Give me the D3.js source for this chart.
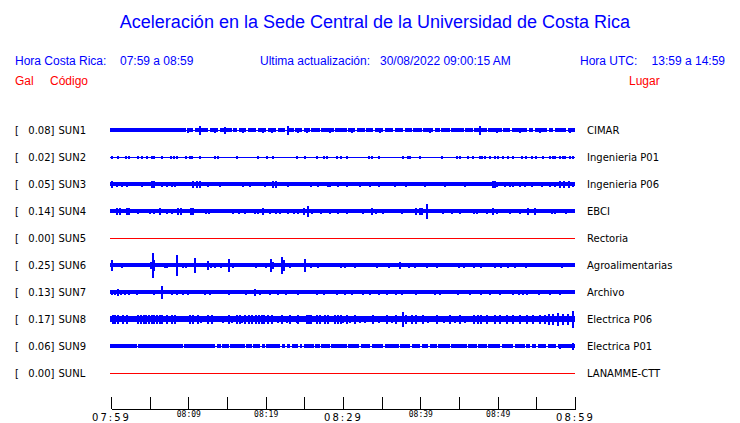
<!DOCTYPE html>
<html><head><meta charset="utf-8">
<script src="https://cdn.jsdelivr.net/npm/d3@7"></script>
<style>body{margin:0;background:#fff}svg{display:block}</style>
</head><body><svg id="c" width="740" height="423"></svg>
<script>
// ---------------- data ----------------
const codes = ["SUN1","SUN2","SUN3","SUN4","SUN5","SUN6","SUN7","SUN8","SUN9","SUNL"];
const sites = ["CIMAR","Ingenieria P01","Ingenieria P06","EBCI","Rectoria","Agroalimentarias","Archivo","Electrica P06","Electrica P01","LANAMME-CTT"];
const peaks = [0.08,0.02,0.05,0.14,0.00,0.25,0.13,0.17,0.06,0.00];
// background (noise floor) half-amplitude, Gal
const noiseFloor = [0.032,0,0.032,0.035,0,0.032,0.032,0.055,0.035,0];
// bursts: [minutes after 07:59, half-amplitude Gal]
const burstsSUN1 = [[10.0,0.04],[11.5,0.078],[13.4,0.045],[14.7,0.06],[17.1,0.04],[19.7,0.04],[20.8,0.045],[22.9,0.075],[24.2,0.05],[25.3,0.045],[28.3,0.04],[31.1,0.05],[34.8,0.04],[41.3,0.045],[47.7,0.075],[49.9,0.04],[52.9,0.05],[55.5,0.035],[59.4,0.04]];
const gapsSUN1 = [9.7,10.6,12.6,13.9,15.6,16.3,17.5,18.8,20.1,21.4,22.5,23.6,24.7,25.7,27.0,28.8,30.5,31.6,32.8,33.9,35.2,36.5,37.8,38.9,40.2,41.7,42.5,43.8,45.6,46.8,48.6,50.5,51.6,53.8,54.6,56.4,57.2,58.9];
const burstsSUN2 = [[0.17,0.03],[0.95,0.03],[1.94,0.025],[2.37,0.025],[3.53,0.03],[3.97,0.025],[4.61,0.03],[5.3,0.03],[5.6,0.03],[6.55,0.025],[7.8,0.03],[8.1,0.03],[8.58,0.03],[9.66,0.025],[10.2,0.03],[10.5,0.03],[11.5,0.03],[13.45,0.025],[13.9,0.02],[16.3,0.025],[19.0,0.02],[20.2,0.025],[21.0,0.02],[24.0,0.02],[25.1,0.02],[26.7,0.03],[27.5,0.03],[27.9,0.025],[29.2,0.025],[29.8,0.03],[30.5,0.025],[33.3,0.02],[33.7,0.025],[34.6,0.03],[37.8,0.02],[38.4,0.03],[38.7,0.03],[40.0,0.025],[42.8,0.03],[44.7,0.025],[45.1,0.02],[46.2,0.025],[46.8,0.02],[47.7,0.03],[48.0,0.03],[48.3,0.03],[49.0,0.03],[49.6,0.03],[50.1,0.03],[50.7,0.03],[51.4,0.03],[52.0,0.025],[53.1,0.03],[53.7,0.025],[54.4,0.03],[55.0,0.03],[55.9,0.025],[56.8,0.03],[57.1,0.03],[57.4,0.03],[58.1,0.03],[58.4,0.03],[58.7,0.03],[59.4,0.03],[59.8,0.03]];
const burstsSUN3 = [[0.17,0.06],[0.82,0.05],[1.46,0.05],[2.1,0.05],[3.97,0.05],[5.3,0.06],[5.6,0.06],[6.55,0.05],[7.2,0.05],[7.85,0.05],[8.28,0.05],[10.6,0.06],[11.1,0.06],[11.5,0.06],[12.6,0.045],[14.1,0.045],[17.1,0.045],[18.0,0.05],[19.9,0.045],[21.0,0.06],[21.3,0.06],[22.9,0.05],[25.9,0.05],[26.8,0.05],[28.0,0.05],[28.3,0.05],[29.4,0.05],[30.5,0.05],[32.2,0.05],[33.5,0.045],[34.6,0.05],[36.7,0.045],[38.2,0.05],[40.6,0.045],[43.2,0.045],[45.8,0.045],[49.4,0.055],[49.7,0.055],[49.9,0.05],[51.0,0.05],[51.6,0.05],[52.0,0.05],[52.9,0.05],[53.5,0.05],[54.5,0.05],[55.7,0.05],[56.8,0.05],[57.4,0.05],[58.1,0.055],[58.6,0.055],[59.2,0.055],[59.7,0.05]];
const burstsSUN4 = [[0.8,0.065],[1.1,0.06],[2.1,0.06],[2.3,0.055],[3.53,0.05],[5.0,0.05],[5.5,0.05],[6.3,0.06],[7.2,0.05],[7.85,0.05],[8.7,0.065],[9.0,0.07],[10.4,0.07],[10.6,0.065],[12.3,0.05],[12.7,0.05],[15.8,0.045],[16.5,0.05],[17.3,0.05],[18.6,0.05],[19.0,0.045],[19.7,0.055],[20.6,0.045],[21.4,0.05],[21.9,0.05],[22.9,0.045],[23.6,0.05],[24.2,0.05],[24.9,0.055],[25.5,0.11],[26.0,0.05],[27.2,0.05],[28.3,0.045],[29.4,0.05],[30.5,0.045],[32.6,0.05],[33.7,0.06],[34.3,0.05],[35.2,0.045],[37.6,0.05],[39.5,0.06],[39.9,0.07],[40.2,0.07],[40.8,0.14],[42.9,0.05],[44.1,0.045],[45.1,0.045],[47.0,0.05],[47.3,0.05],[48.6,0.05],[49.4,0.06],[49.9,0.05],[51.6,0.05],[52.9,0.05],[53.9,0.065],[54.8,0.06],[57.0,0.05],[57.4,0.05],[58.9,0.05]];
const burstsSUN6 = [[0.09,0.1],[1.38,0.045],[5.2,0.07],[5.4,0.25],[5.6,0.1],[6.98,0.05],[7.3,0.05],[8.58,0.21],[9.35,0.05],[9.7,0.045],[10.9,0.14],[12.5,0.09],[12.9,0.05],[13.45,0.045],[14.2,0.045],[15.3,0.13],[15.8,0.05],[18.8,0.04],[20.1,0.05],[20.65,0.13],[20.9,0.07],[22.1,0.17],[22.4,0.1],[23.1,0.05],[25.1,0.12],[25.9,0.045],[26.8,0.04],[29.8,0.05],[30.3,0.05],[31.6,0.04],[34.4,0.04],[35.9,0.05],[37.4,0.06],[38.5,0.05],[39.3,0.05],[40.9,0.05],[42.2,0.05],[45.0,0.05],[45.6,0.05],[46.9,0.045],[47.8,0.05],[49.7,0.05],[50.4,0.05],[51.4,0.045],[52.3,0.05],[53.6,0.05],[58.3,0.04]];
const burstsSUN7 = [[0.09,0.045],[0.52,0.05],[0.95,0.07],[1.25,0.05],[1.81,0.045],[2.37,0.045],[3.4,0.045],[5.56,0.045],[6.55,0.13],[7.85,0.045],[8.5,0.05],[9.35,0.045],[9.96,0.05],[12.2,0.04],[12.8,0.045],[15.2,0.04],[17.5,0.045],[18.6,0.055],[19.3,0.045],[20.6,0.045],[21.6,0.04],[22.6,0.05],[24.2,0.04],[26.6,0.04],[27.5,0.04],[29.2,0.05],[30.3,0.045],[31.1,0.045],[32.6,0.04],[33.5,0.045],[34.6,0.04],[35.7,0.04],[36.9,0.045],[37.6,0.04],[39.5,0.04],[41.9,0.04],[42.5,0.045],[44.9,0.04],[46.4,0.045],[47.9,0.04],[49.0,0.04],[50.3,0.045],[52.0,0.045],[52.7,0.045],[53.3,0.045],[53.8,0.045],[55.3,0.04],[56.8,0.045],[58.1,0.04]];
const burstsSUN8 = [[0.3,0.08],[0.52,0.075],[0.95,0.08],[1.6,0.075],[2.03,0.085],[3.53,0.075],[3.88,0.08],[4.22,0.075],[4.57,0.08],[4.91,0.075],[5.26,0.08],[5.6,0.075],[5.95,0.08],[6.3,0.075],[6.64,0.08],[7.2,0.08],[7.85,0.075],[8.28,0.085],[10.2,0.08],[10.65,0.075],[11.3,0.075],[11.7,0.07],[12.6,0.08],[13.0,0.075],[14.5,0.07],[15.2,0.075],[15.6,0.07],[16.25,0.075],[16.7,0.075],[16.9,0.07],[17.3,0.075],[17.8,0.075],[18.2,0.08],[18.8,0.085],[19.1,0.09],[19.5,0.085],[19.8,0.08],[20.3,0.075],[20.8,0.075],[21.6,0.07],[22.1,0.075],[22.7,0.07],[23.1,0.075],[24.0,0.07],[24.2,0.075],[25.3,0.085],[25.6,0.095],[25.9,0.085],[26.6,0.085],[27.0,0.075],[27.7,0.075],[28.1,0.075],[29.0,0.075],[29.4,0.075],[29.8,0.075],[30.0,0.07],[30.5,0.075],[30.9,0.07],[31.6,0.075],[32.2,0.07],[32.8,0.07],[33.9,0.075],[34.6,0.07],[35.7,0.075],[36.3,0.07],[36.9,0.075],[37.7,0.15],[38.2,0.085],[38.9,0.075],[39.5,0.08],[40.4,0.075],[41.0,0.07],[42.1,0.075],[43.0,0.07],[43.8,0.075],[44.5,0.07],[45.1,0.075],[45.8,0.07],[46.9,0.08],[47.5,0.075],[47.9,0.08],[48.6,0.085],[49.6,0.09],[50.3,0.085],[51.2,0.09],[52.0,0.085],[52.9,0.085],[53.8,0.09],[54.6,0.085],[55.5,0.09],[56.1,0.095],[56.6,0.1],[57.2,0.1],[57.8,0.12],[58.5,0.1],[59.1,0.11],[59.8,0.17]];
const burstsSUN9 = [[58.1,0.05],[59.8,0.06]];
const gapsSUN9 = [3.3,9.3,13.45,14.2,15.2,17.3,18.2,19.3,19.9,21.9,22.5,23.2,24.2,24.7,26.2,27.0,28.3,30.5,32.1,33.5,35.2,37.2,38.7,40.0,41.0,42.1,43.8,46.0,47.3,48.6,50.3,52.0,53.5,54.2,55.0,56.3,57.6];
const burstsByCode = {SUN1:burstsSUN1,SUN2:burstsSUN2,SUN3:burstsSUN3,SUN4:burstsSUN4,SUN5:[],SUN6:burstsSUN6,SUN7:burstsSUN7,SUN8:burstsSUN8,SUN9:burstsSUN9,SUNL:[]};
const gapsByCode = {SUN1:gapsSUN1,SUN9:gapsSUN9};
const tickLabels = ["07:59","08:04","08:09","08:14","08:19","08:24","08:29","08:34","08:39","08:44","08:49","08:54","08:59"];
const shownLabels = ["07:59","08:09","08:19","08:29","08:39","08:49","08:59"];
const majorLabels = ["07:59","08:29","08:59"];

// ---------------- drawing ----------------
const svg = d3.select("#c");
const BLUE = "#0000ff", RED = "#ff0000";
const parse = d3.timeParse("%H:%M");
const t0 = parse(tickLabels[0]), t1 = parse(tickLabels[tickLabels.length-1]);
const at = m => new Date(t0.getTime() + m*60000);
const x = d3.scaleTime().domain([t0,t1]).range([111,575]);
const row = d3.scalePoint().domain(codes).range([130,373]);
const amp = d3.scaleLinear().domain([-0.25,0.25]).range([11.75,-11.75]);

// header
svg.append("text").attr("x",375).attr("y",28).attr("text-anchor","middle")
  .attr("font-family","Liberation Sans, Arial, sans-serif").attr("font-size",18).attr("fill",BLUE)
  .text("Aceleración en la Sede Central de la Universidad de Costa Rica");
const hdr = (t,xx,yy,col,anchor) => svg.append("text").attr("x",xx).attr("y",yy)
  .attr("text-anchor",anchor||"start").attr("font-family","Liberation Sans, Arial, sans-serif")
  .attr("font-size",12).attr("fill",col).text(t);
hdr("Hora Costa Rica:",15,65,BLUE);
hdr("07:59 a 08:59",120,65,BLUE);
hdr("Ultima actualización:",260,65,BLUE);
hdr("30/08/2022 09:00:15 AM",380,65,BLUE);
hdr("Hora UTC:",580,65,BLUE);
hdr("13:59 a 14:59",725,65,BLUE,"end");
hdr("Gal",15,85,RED);
hdr("Código",50,85,RED);
hdr("Lugar",629,85,RED);

// traces
const fmt = d3.format(".2f");
codes.forEach((code,i) => {
  const cy = row(code);
  const lab = svg.append("g").attr("font-family","DejaVu Sans, sans-serif").attr("font-size",10).attr("fill","#000");
  lab.append("text").attr("x",15).attr("y",cy+4).text("[");
  lab.append("text").attr("x",54.5).attr("y",cy+4).attr("text-anchor","end").text(fmt(peaks[i])+"]");
  lab.append("text").attr("x",58.5).attr("y",cy+4).text(code);
  lab.append("text").attr("x",587).attr("y",cy+4).text(sites[i]);

  const g = svg.append("g").attr("shape-rendering","crispEdges");
  const xa = x(t0)-1, xb = x(t1);
  if (peaks[i] === 0) {
    g.append("rect").attr("x",xa).attr("y",cy).attr("width",xb-xa).attr("height",1).attr("fill",RED);
    return;
  }
  const nf = noiseFloor[i];
  if (nf > 0) {
    g.append("rect").attr("x",xa).attr("y",cy+amp(nf)).attr("width",xb-xa)
      .attr("height",amp(-nf)-amp(nf)).attr("fill",BLUE);
  }
  (gapsByCode[code]||[]).forEach(m => {
    const gx = x(at(m));
    g.append("rect").attr("x",gx).attr("y",cy+amp(nf)-0.5).attr("width",Math.max(1.5,x(at(m+0.2))-gx))
      .attr("height",amp(-nf)-amp(nf)+1).attr("fill","#fff");
  });
  g.append("rect").attr("x",xa).attr("y",cy).attr("width",xb-xa).attr("height",1).attr("fill",BLUE);
  burstsByCode[code].forEach(([m,a]) => {
    const bx = x(at(m));
    g.append("rect").attr("x",bx-1).attr("y",cy+amp(a)).attr("width",2)
      .attr("height",amp(-a)-amp(a)+1).attr("fill",BLUE);
  });
});

// axis
const axis = d3.axisBottom(x)
  .tickValues(tickLabels.map(parse))
  .tickSizeInner(-12).tickSizeOuter(0)
  .tickFormat(d => { const s = d3.timeFormat("%H:%M")(d); return shownLabels.includes(s) ? s : ""; });
const ax = svg.append("g").attr("transform","translate(0,409)").call(axis);
ax.select(".domain").attr("stroke","#000").attr("shape-rendering","crispEdges");
ax.selectAll(".tick line").attr("stroke","#000").attr("shape-rendering","crispEdges");
ax.selectAll(".tick text").each(function(d){
  const s = d3.timeFormat("%H:%M")(d);
  const t = d3.select(this).attr("dy",null).attr("fill","#000");
  if (majorLabels.includes(s)) {
    t.attr("y",12).attr("font-family","DejaVu Sans, sans-serif").attr("font-size",10).attr("letter-spacing","2px");
  } else {
    t.attr("y",8).attr("font-family","DejaVu Sans Mono, monospace").attr("font-size",8);
  }
});
</script></body></html>
